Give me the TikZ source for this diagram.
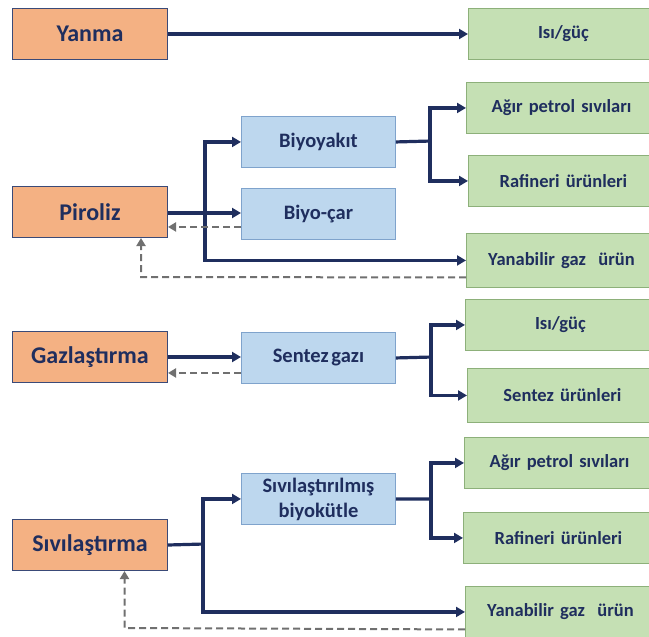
\documentclass[tikz,border=0pt]{standalone}
\usepackage{fontspec}
\setmainfont{Carlito}[WordSpace=0.6]
\usetikzlibrary{arrows.meta,calc}
\definecolor{ofill}{HTML}{F4B183}
\definecolor{odraw}{HTML}{3A4A78}
\definecolor{bfill}{HTML}{BDD7EE}
\definecolor{bdraw}{HTML}{7FA3CC}
\definecolor{gfill}{HTML}{C5E0B4}
\definecolor{gdraw}{HTML}{8DB07A}
\definecolor{navy}{HTML}{1F2E5E}
\definecolor{dgrey}{HTML}{707070}
\begin{document}
\begin{tikzpicture}[x=1pt,y=1pt,
  box/.style={anchor=north west,inner sep=0pt,text=navy,font=\bfseries,align=center},
  obox/.style={box,fill=ofill,draw=odraw,line width=1pt,minimum width=155pt,minimum height=51pt,font=\bfseries\fontsize{24}{27}\selectfont},
  bbox/.style={box,fill=bfill,draw=bdraw,line width=0.9pt,minimum width=154pt,minimum height=51pt,font=\bfseries\fontsize{20.5}{25}\selectfont},
  gbox/.style={box,fill=gfill,draw=gdraw,line width=0.9pt,minimum width=190pt,minimum height=51pt,font=\bfseries\fontsize{18.5}{21}\selectfont,text width=185pt},
  arr/.style={draw=navy,line width=3.2pt,-{Triangle[length=9pt,width=10pt]}},
  ln/.style={draw=navy,line width=3.2pt},
  dashline/.style={draw=dgrey,line width=2pt,dash pattern=on 7pt off 4pt,-{Triangle[length=8pt,width=9pt]}}
]
\useasboundingbox (0,0) rectangle (649,-637);
\begin{scope}
\clip (0,0) rectangle (649,-637);
% orange
\node[obox] (yanma) at (12,-8) {Yanma};
\node[obox] (piroliz) at (12,-186) {Piroliz};
\node[obox] (gaz) at (12,-331) {Gazlaştırma};
\node[obox] (siv) at (12,-519) {Sıvılaştırma};
% blue
\node[bbox] (biyoyakit) at (241,-116) {Biyoyakıt};
\node[bbox] (biyocar) at (241,-188) {Biyo-çar};
\node[bbox] (sentez) at (241,-332) {Sentez gazı};
\node[bbox] (sivb) at (241,-473) {Sıvılaştırılmış\\biyokütle};
% green
\node[gbox] (isi1) at (468,-8) {Isı/güç};
\node[gbox] (agir1) at (466,-82) {Ağır petrol sıvıları};
\node[gbox] (raf1) at (468,-155) {Rafineri ürünleri};
\node[gbox,minimum height=54pt] (yan1) at (466,-233) {Yanabilir gaz\ \ ürün};
\node[gbox] (isi2) at (465,-299) {Isı/güç};
\node[gbox,minimum height=54pt] (sur) at (467,-368) {Sentez ürünleri};
\node[gbox] (agir2) at (464,-437) {Ağır petrol sıvıları};
\node[gbox] (raf2) at (463,-512) {Rafineri ürünleri};
\node[gbox] (yan2) at (465,-586) {Yanabilir gaz\ \ ürün};
\end{scope}
% Yanma
\draw[arr] (yanma.east) -- (isi1.west |- yanma.east);
% Piroliz
\coordinate (pj) at (205,-212);
\draw[arr] ([yshift=-1pt]piroliz.east) -- ([yshift=-1pt]piroliz.east -| biyocar.west);
\draw[ln] (pj |- biyoyakit.west) -- (pj |- yan1.west);
\draw[arr] ([xshift=-1.6pt]pj |- biyoyakit.west) -- (biyoyakit.west);
\draw[arr] ([xshift=-1.6pt]pj |- yan1.west) -- (yan1.west);
\coordinate (bj) at (430,-141);
\draw[ln] (biyoyakit.east) -- ([xshift=1.6pt]bj);
\draw[ln] (bj |- agir1.west) -- (bj |- raf1.west);
\draw[arr] ([xshift=-1.6pt]bj |- agir1.west) -- (agir1.west);
\draw[arr] ([xshift=-1.6pt]bj |- raf1.west) -- (raf1.west);
\draw[dashline] ([yshift=-13pt]biyocar.west) -- ([yshift=-13pt]biyocar.west -| piroliz.east);
\coordinate (pd) at (141,-277);
\draw[dashline] ([yshift=-17pt]yan1.west) -- (pd) -- (pd |- piroliz.south);
% Gazlastirma
\draw[arr] (gaz.east) -- (gaz.east -| sentez.west);
\draw[dashline] ([yshift=-15pt]sentez.west) -- ([yshift=-15pt]sentez.west -| gaz.east);
\coordinate (sj) at (431,-357);
\draw[ln] (sentez.east) -- ([xshift=1.6pt]sj);
\draw[ln] (sj |- isi2.west) -- (sj |- sur.west);
\draw[arr] ([xshift=-1.6pt]sj |- isi2.west) -- (isi2.west);
\draw[arr] ([xshift=-1.6pt]sj |- sur.west) -- (sur.west);
% Sivilastirma
\coordinate (vj) at (203,-544);
\draw[ln] (siv.east) -- ([xshift=1.6pt]vj);
\draw[ln] (vj |- sivb.west) -- (vj |- yan2.west);
\draw[arr] ([xshift=-1.6pt]vj |- sivb.west) -- (sivb.west);
\draw[arr] ([xshift=-1.6pt]vj |- yan2.west) -- (yan2.west);
\coordinate (wj) at (431,-499);
\draw[ln] (sivb.east) -- ([xshift=1.6pt]wj);
\draw[ln] (wj |- agir2.west) -- (wj |- raf2.west);
\draw[arr] ([xshift=-1.6pt]wj |- agir2.west) -- (agir2.west);
\draw[arr] ([xshift=-1.6pt]wj |- raf2.west) -- (raf2.west);
\coordinate (vd) at (124.5,-628);
\draw[dashline] ([yshift=-17.5pt]yan2.west) -- (vd) -- (vd |- siv.south);
\end{tikzpicture}
\end{document}
